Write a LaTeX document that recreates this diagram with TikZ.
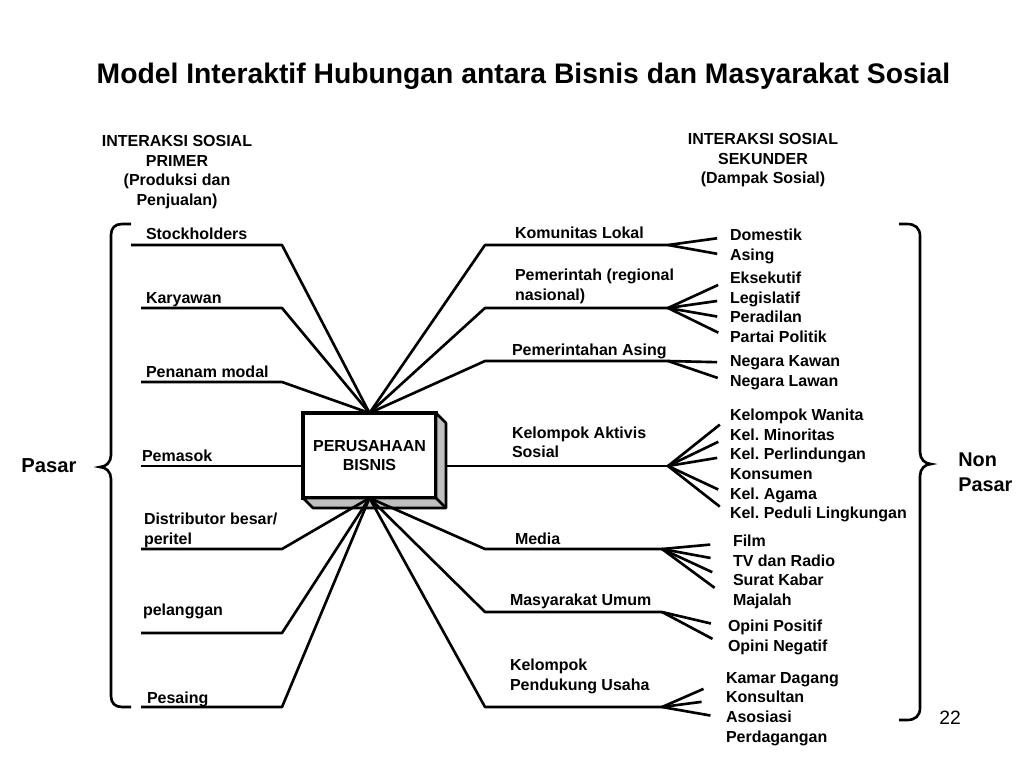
\documentclass[tikz,border=0pt]{standalone}
\usepackage{fontspec}
\setmainfont{Liberation Sans}
\usetikzlibrary{positioning}
\colorlet{sidegray}{black!25}
\newcommand{\diagfont}{\bfseries\fontsize{9.1}{11.1}\selectfont}
\frenchspacing

\begin{document}
\begin{tikzpicture}[
    x=0.02cm, y=-0.02cm,
    node distance=0pt,
    txt/.style={font=\diagfont, inner sep=0pt, outer sep=0pt},
    lab/.style={txt, anchor=base west},
    mlab/.style={txt, align=left, anchor=south west},
    head/.style={txt, align=center},
    item/.style={txt, anchor=west, text height=7pt, text depth=2.2pt, inner ysep=0.985pt},
    stackunder/.style={below=of #1.south west, anchor=north west},
    firmbox/.style={draw, line width=1.8pt, fill=white, outer sep=0pt, minimum width=2.66cm, minimum height=1.7cm, align=center, font=\diagfont},
    side/.style={draw, line width=1.5pt, fill=sidegray, line join=round},
    link/.style={line width=1.5pt, line join=round},
    fan/.style={line width=1.5pt, shorten >=#1},
    fan/.default=7.4pt,
    brace/.style={line width=1.5pt},
]
\useasboundingbox (0,0) rectangle (1024,768);

% Title and column heads
\node[font=\bfseries\fontsize{16.1}{19}\selectfont] (title) at (523.5,76) {Model Interaktif Hubungan antara Bisnis dan Masyarakat Sosial};
\node[head] (hprim) at (177,172) {INTERAKSI SOSIAL\\PRIMER\\(Produksi dan\\Penjualan)};
\node[head] (hsek)  at (763,160.5) {INTERAKSI SOSIAL\\SEKUNDER\\(Dampak Sosial)};

% Centre box with its 3-D side
\node[firmbox] (firm) at (369.5,455.5) {PERUSAHAAN\\BISNIS};
\draw[side] (firm.north east) -- ++(10,10) -- ([shift={(10,10)}]firm.south east)
            -- ([shift={(10,10)}]firm.south west) -- (firm.south west) -- (firm.south east) -- cycle;
\draw[side] (firm.south east) -- ++(10,10);
\coordinate (fside) at ([shift={(10,0)}]firm.east);

% Market side (left)
\coordinate (ls1) at (131,245);  \coordinate (lc1) at (282,245);
\coordinate (ls2) at (141,308);  \coordinate (lc2) at (282,308);
\coordinate (ls3) at (141,382);  \coordinate (lc3) at (282,382);
\coordinate (ls4) at (141,466);
\coordinate (ls5) at (141,549);  \coordinate (lc5) at (282,549);
\coordinate (ls6) at (141,633);  \coordinate (lc6) at (282,633);
\coordinate (ls7) at (141,707);  \coordinate (lc7) at (282,707);

\draw[link] (firm.north) -- (lc1) -- (ls1);
\draw[link] (firm.north) -- (lc2) -- (ls2);
\draw[link] (firm.north) -- (lc3) -- (ls3);
\draw[link] (firm.west |- ls4) -- (ls4);
\draw[link] (firm.south) -- (lc5) -- (ls5);
\draw[link] (firm.south) -- (lc6) -- (ls6);
\draw[link] (firm.south) -- (lc7) -- (ls7);

\node[lab]  (stock) at (146,239)   {Stockholders};
\node[lab]  (kary)  at (146,303.5) {Karyawan};
\node[lab]  (penan) at (146,377)   {Penanam modal};
\node[lab]  (pemas) at (142,461)   {Pemasok};
\node[mlab] (distr) at (144,547.4) {Distributor besar/\\peritel};
\node[lab]  (pelan) at (143,615)   {pelanggan};
\node[lab]  (pesai) at (147,703)   {Pesaing};

% Non-market side (right)
\coordinate (rc1) at (485,245);  \coordinate (kom) at (668,245);
\coordinate (rc2) at (485,308);  \coordinate (pem) at (668,308);
\coordinate (rc3) at (485,361);  \coordinate (pa)  at (668,361);
                                 \coordinate (ka)  at (668,466);
\coordinate (rc5) at (485,549);  \coordinate (med) at (662,549);
\coordinate (rc6) at (485,612);  \coordinate (mu)  at (662,612);
\coordinate (rc7) at (485,707);  \coordinate (kpu) at (662,707);

\draw[link] (firm.north) -- (rc1) -- (kom);
\draw[link] (firm.north) -- (rc2) -- (pem);
\draw[link] (firm.north) -- (rc3) -- (pa);
\draw[link] (fside |- ka) -- (ka);
\draw[link] (firm.south) -- (rc5) -- (med);
\draw[link] (firm.south) -- (rc6) -- (mu);
\draw[link] (firm.south) -- (rc7) -- (kpu);

\node[lab]  (komlbl) at (515,238)   {Komunitas Lokal};
\node[mlab] (pemlbl) at (515,303.4) {Pemerintah (regional\\nasional)};
\node[lab]  (palbl)  at (512,355)   {Pemerintahan Asing};
\node[mlab] (kalbl)  at (512,458)   {Kelompok Aktivis\\Sosial};
\node[lab]  (medlbl) at (515,544)   {Media};
\node[lab]  (mulbl)  at (510,605)   {Masyarakat Umum};
\node[mlab] (kpulbl) at (510,693.4) {Kelompok\\Pendukung Usaha};

% Sub-groups
\node[item] (dom)  at (730,236.5) {Domestik};
\node[item, stackunder=dom]  (asing) {Asing};

\node[item] (eks)  at (730,279.5) {Eksekutif};
\node[item, stackunder=eks]  (leg)  {Legislatif};
\node[item, stackunder=leg]  (per)  {Peradilan};
\node[item, stackunder=per]  (pp)   {Partai Politik};

\node[item] (nk)   at (730,362.5) {Negara Kawan};
\node[item, stackunder=nk]   (nl)   {Negara Lawan};

\node[item] (kw)   at (730,416.5) {Kelompok Wanita};
\node[item, stackunder=kw]   (kmin) {Kel. Minoritas};
\node[item, stackunder=kmin] (kper) {Kel. Perlindungan};
\node[item, stackunder=kper] (kons) {Konsumen};
\node[item, stackunder=kons] (kag)  {Kel. Agama};
\node[item, stackunder=kag]  (kpl)  {Kel. Peduli Lingkungan};

\node[item] (film) at (733,542.5) {Film};
\node[item, stackunder=film] (tv)   {TV dan Radio};
\node[item, stackunder=tv]   (sk)   {Surat Kabar};
\node[item, stackunder=sk]   (maj)  {Majalah};

\node[item] (opp)  at (728,627.5) {Opini Positif};
\node[item, stackunder=opp]  (opn)  {Opini Negatif};

\node[item] (kd)   at (726,679) {Kamar Dagang};
\node[item, stackunder=kd]   (kslt) {Konsultan};
\node[item, stackunder=kslt] (asos) {Asosiasi};
\node[item, stackunder=asos] (perd) {Perdagangan};

\draw[fan] (kom) -- (dom.west);
\draw[fan] (kom) -- (asing.west);
\draw[fan] (pem) -- (eks.west);
\draw[fan] (pem) -- (leg.west);
\draw[fan] (pem) -- (per.west);
\draw[fan] (pem) -- (pp.west);
\draw[fan] (pa)  -- (nk.west);
\draw[fan] (pa)  -- (nl.west);
\draw[fan] (ka)  -- (kw.west);
\draw[fan] (ka)  -- (kmin.west);
\draw[fan] (ka)  -- (kper.west);
\draw[fan] (ka)  -- (kag.west);
\draw[fan] (ka)  -- (kpl.west);
\draw[fan=13pt] (med) -- (film.west);
\draw[fan=13pt] (med) -- (tv.west);
\draw[fan=13pt] (med) -- (sk.west);
\draw[fan=13pt] (med) -- (maj.west);
\draw[fan=10pt] (mu)  -- (opp.west);
\draw[fan=10pt] (mu)  -- (opn.west);
\draw[fan=14pt] (kpu) -- (kd.west);
\draw[fan=14pt] (kpu) -- (kslt.west);
\draw[fan=9pt]  (kpu) -- (asos.west);

% Braces and side labels
\draw[brace] (131,224) -- (122,224) .. controls (115,224) and (111,228) .. (111,235)
   -- (111,455) .. controls (111,462) and (106,467) .. (100,467)
   .. controls (106,467) and (111,472) .. (111,479)
   -- (111,696) .. controls (111,703) and (115,707) .. (122,707) -- (131,707);
\draw[brace] (899,224) -- (907,224) .. controls (915,224) and (920,228) .. (920,236)
   -- (920,452) .. controls (920,459) and (925,464) .. (931,464)
   .. controls (925,464) and (920,469) .. (920,476)
   -- (920,708) .. controls (920,716) and (915,720) .. (907,720) -- (899,720);

\node[font=\bfseries\fontsize{11.5}{14}\selectfont] (pasar) at (49,466) {Pasar};
\node[font=\bfseries\fontsize{11.3}{14}\selectfont, align=left, anchor=west, inner sep=0pt] (nonpasar) at (958,472) {Non\\Pasar};
\node[font=\fontsize{11}{13}\selectfont] (pgnum) at (950,718) {22};

\end{tikzpicture}
\end{document}
